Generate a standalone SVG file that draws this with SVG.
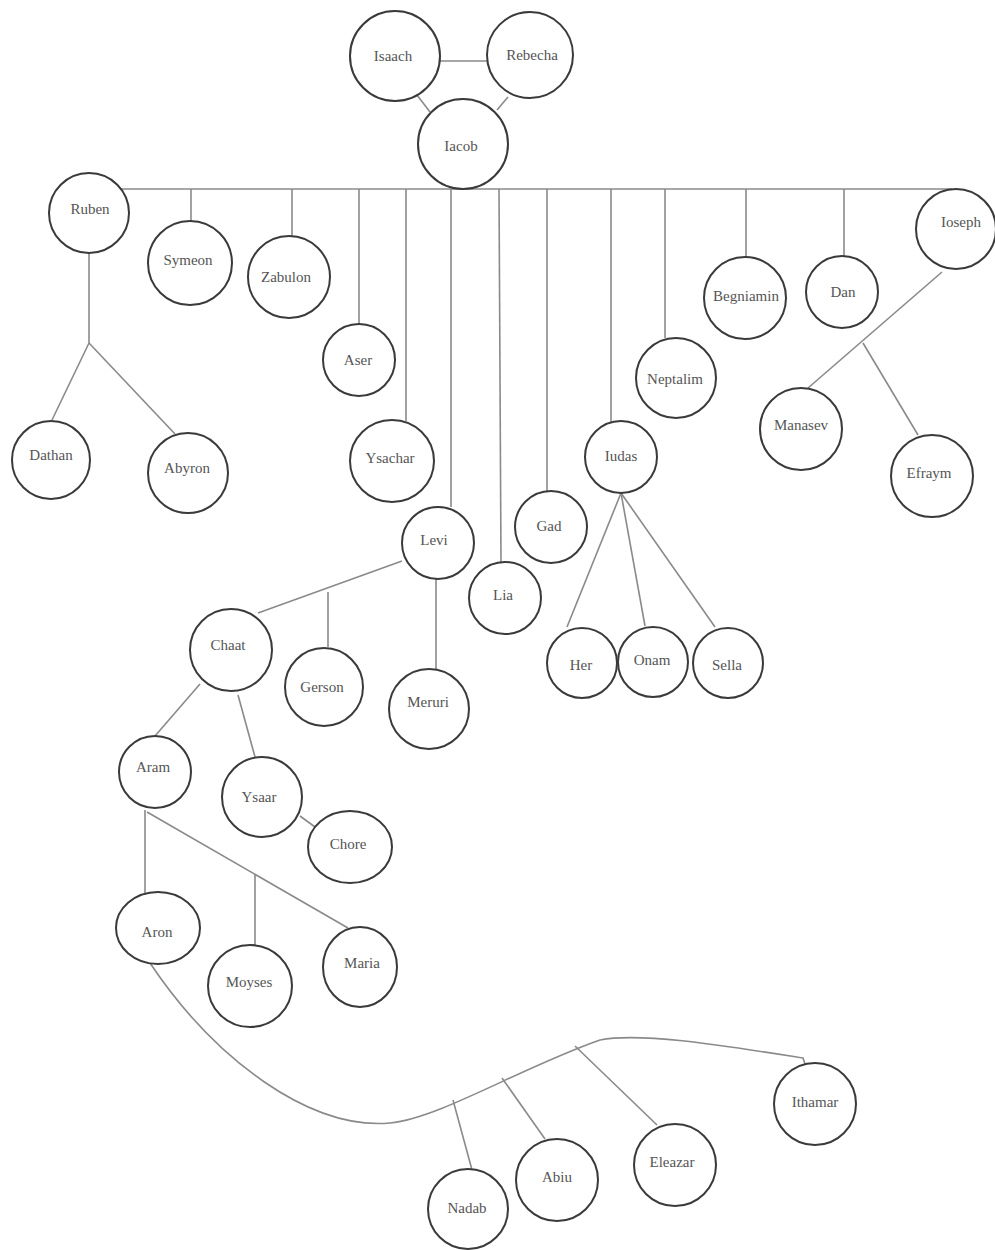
<svg xmlns="http://www.w3.org/2000/svg" width="995" height="1250" viewBox="0 0 995 1250">
<style>
.n circle, .n ellipse { fill: #fff; stroke: #3a3a3a; stroke-width: 2; }
.n text { font-family: "Liberation Serif", "Times New Roman", serif; font-size: 15px; fill: #555; text-anchor: middle; dominant-baseline: central; }
#connectors line, #connectors path { stroke: #8a8a8a; stroke-width: 1.6; fill: none; }
</style>
<rect width="995" height="1250" fill="#fff"/>
<g id="connectors">
<line x1="440" y1="61" x2="488" y2="61"/>
<line x1="417" y1="95" x2="430" y2="112"/>
<line x1="508" y1="97" x2="497" y2="110"/>
<line x1="121" y1="189" x2="952" y2="189"/>
<line x1="191" y1="189" x2="191" y2="222"/>
<line x1="292" y1="189" x2="292" y2="237"/>
<line x1="359" y1="189" x2="359" y2="324"/>
<line x1="406" y1="189" x2="406" y2="421"/>
<line x1="451" y1="189" x2="451" y2="507"/>
<line x1="499" y1="189" x2="501" y2="562"/>
<line x1="547" y1="189" x2="547" y2="491"/>
<line x1="611" y1="189" x2="611" y2="422"/>
<line x1="665" y1="189" x2="665" y2="338"/>
<line x1="746" y1="189" x2="746" y2="258"/>
<line x1="844" y1="189" x2="844" y2="256"/>
<line x1="89" y1="253" x2="89" y2="343"/>
<line x1="89" y1="343" x2="52" y2="420"/>
<line x1="89" y1="343" x2="175" y2="434"/>
<line x1="942" y1="272" x2="808" y2="388"/>
<line x1="863" y1="343" x2="918" y2="435"/>
<line x1="402" y1="561" x2="258" y2="613"/>
<line x1="328" y1="592" x2="328" y2="647"/>
<line x1="436" y1="579" x2="436" y2="670"/>
<line x1="621" y1="493" x2="567" y2="627"/>
<line x1="621" y1="493" x2="645" y2="626"/>
<line x1="621" y1="493" x2="715" y2="627"/>
<line x1="200" y1="684" x2="155" y2="736"/>
<line x1="238" y1="695" x2="255" y2="757"/>
<line x1="300" y1="816" x2="315" y2="827"/>
<line x1="145" y1="810" x2="145" y2="893"/>
<line x1="147" y1="812" x2="348" y2="928"/>
<line x1="255" y1="874" x2="255" y2="945"/>
<path d="M150,963 C215,1060 310,1130 390,1123 C440,1118 520,1068 600,1040 C640,1032 720,1045 803,1058 L805,1064"/>
<line x1="453" y1="1100" x2="472" y2="1170"/>
<line x1="502" y1="1078" x2="545" y2="1139"/>
<line x1="575" y1="1046" x2="657" y2="1125"/>
</g>
<g id="isaach" class="n"><circle cx="395" cy="56" r="45"/><text x="393" y="56">Isaach</text></g>
<g id="rebecha" class="n"><circle cx="530" cy="55" r="43"/><text x="532" y="55">Rebecha</text></g>
<g id="iacob" class="n"><circle cx="463" cy="144" r="45"/><text x="461" y="146">Iacob</text></g>
<g id="ruben" class="n"><circle cx="89" cy="213" r="40"/><text x="90" y="209">Ruben</text></g>
<g id="symeon" class="n"><circle cx="190" cy="263" r="42"/><text x="188" y="260">Symeon</text></g>
<g id="zabulon" class="n"><circle cx="289" cy="277" r="41"/><text x="286" y="277">Zabulon</text></g>
<g id="aser" class="n"><circle cx="359" cy="360" r="36"/><text x="358" y="360">Aser</text></g>
<g id="ysachar" class="n"><ellipse cx="392" cy="461" rx="42" ry="41"/><text x="390" y="458">Ysachar</text></g>
<g id="levi" class="n"><circle cx="438" cy="543" r="36"/><text x="434" y="540">Levi</text></g>
<g id="lia" class="n"><circle cx="505" cy="598" r="36"/><text x="503" y="595">Lia</text></g>
<g id="gad" class="n"><circle cx="551" cy="527" r="36"/><text x="549" y="526">Gad</text></g>
<g id="iudas" class="n"><circle cx="621" cy="457" r="36"/><text x="621" y="456">Iudas</text></g>
<g id="neptalim" class="n"><circle cx="676" cy="378" r="40"/><text x="675" y="379">Neptalim</text></g>
<g id="begniamin" class="n"><circle cx="745" cy="298" r="41"/><text x="746" y="296">Begniamin</text></g>
<g id="dan" class="n"><circle cx="842" cy="292" r="36"/><text x="843" y="292">Dan</text></g>
<g id="ioseph" class="n"><circle cx="956" cy="229" r="40"/><text x="961" y="222">Ioseph</text></g>
<g id="dathan" class="n"><circle cx="51" cy="460" r="39"/><text x="51" y="455">Dathan</text></g>
<g id="abyron" class="n"><circle cx="188" cy="473" r="40"/><text x="187" y="468">Abyron</text></g>
<g id="manasev" class="n"><circle cx="801" cy="429" r="41"/><text x="801" y="425">Manasev</text></g>
<g id="efraym" class="n"><circle cx="932" cy="476" r="41"/><text x="929" y="473">Efraym</text></g>
<g id="chaat" class="n"><circle cx="231" cy="650" r="41"/><text x="228" y="645">Chaat</text></g>
<g id="gerson" class="n"><circle cx="324" cy="687" r="39"/><text x="322" y="687">Gerson</text></g>
<g id="meruri" class="n"><circle cx="429" cy="709" r="40"/><text x="428" y="702">Meruri</text></g>
<g id="her" class="n"><circle cx="582" cy="663" r="35"/><text x="581" y="665">Her</text></g>
<g id="onam" class="n"><circle cx="653" cy="662" r="35"/><text x="652" y="660">Onam</text></g>
<g id="sella" class="n"><circle cx="728" cy="663" r="35"/><text x="727" y="665">Sella</text></g>
<g id="aram" class="n"><circle cx="155" cy="772" r="36"/><text x="153" y="767">Aram</text></g>
<g id="ysaar" class="n"><circle cx="262" cy="797" r="40"/><text x="259" y="797">Ysaar</text></g>
<g id="chore" class="n"><ellipse cx="350" cy="847" rx="42" ry="36"/><text x="348" y="844">Chore</text></g>
<g id="aron" class="n"><ellipse cx="158" cy="928" rx="42" ry="36"/><text x="157" y="932">Aron</text></g>
<g id="moyses" class="n"><ellipse cx="250" cy="986" rx="42" ry="41"/><text x="249" y="982">Moyses</text></g>
<g id="maria" class="n"><ellipse cx="360" cy="967" rx="37" ry="40"/><text x="362" y="963">Maria</text></g>
<g id="nadab" class="n"><circle cx="468" cy="1209" r="40"/><text x="467" y="1208">Nadab</text></g>
<g id="abiu" class="n"><circle cx="557" cy="1180" r="41"/><text x="557" y="1177">Abiu</text></g>
<g id="eleazar" class="n"><circle cx="675" cy="1165" r="41"/><text x="672" y="1162">Eleazar</text></g>
<g id="ithamar" class="n"><circle cx="815" cy="1104" r="41"/><text x="815" y="1102">Ithamar</text></g>
</svg>
